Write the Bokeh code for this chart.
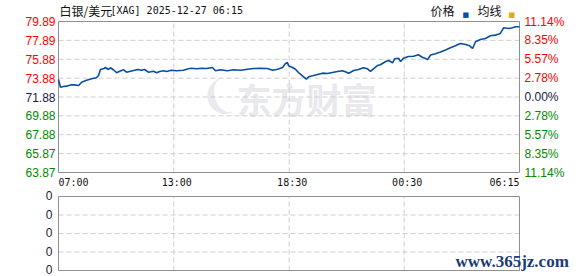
from bokeh.plotting import figure
from bokeh.models import Range1d, Label
from bokeh.embed import file_html
from bokeh.resources import INLINE

# ---------------- data ----------------
title_name = "白银/美元"
title_rest = "[XAG] 2025-12-27 06:15"
legend_names = ["价格", "均线"]

x_tick_pos = [0, 349, 698, 1046, 1395]
x_tick_labels = ["07:00", "13:00", "18:30", "00:30", "06:15"]

base_price = 71.88
price_ticks = [79.89, 77.89, 75.88, 73.88, 71.88, 69.88, 67.88, 65.87, 63.87]
price_tick_labels = ["79.89", "77.89", "75.88", "73.88", "71.88", "69.88", "67.88", "65.87", "63.87"]
pct_tick_labels = ["11.14%", "8.35%", "5.57%", "2.78%", "0.00%", "2.78%", "5.57%", "8.35%", "11.14%"]

vol_ticks = [0, 1, 2, 3, 4]
vol_tick_labels = ["0", "0", "0", "0", "0"]

t_idx = [0, 6, 15, 24, 39, 48, 61, 70, 85, 100, 115, 121, 127, 136, 142, 151, 157,
         166, 176, 185, 197, 206, 215, 230, 242, 251, 260, 272, 287, 297, 306, 318,
         327, 342, 357, 378, 393, 402, 418, 433, 448, 466, 475, 490, 511, 530, 551,
         572, 590, 611, 632, 648, 663, 678, 687, 693, 696, 708, 717, 726, 732, 741,
         750, 757, 769, 784, 799, 814, 829, 844, 859, 868, 878, 884, 893, 908, 923,
         935, 944, 953, 965, 974, 990, 999, 1011, 1017, 1029, 1035, 1044, 1059, 1074,
         1089, 1101, 1117, 1126, 1141, 1156, 1171, 1186, 1201, 1216, 1232, 1244, 1253,
         1262, 1277, 1292, 1307, 1322, 1337, 1347, 1362, 1374, 1383, 1395]
price = [73.74, 72.92, 72.99, 73.03, 73.17, 73.17, 73.10, 73.45, 73.66, 73.81, 73.92,
         74.16, 74.80, 74.87, 75.01, 74.80, 74.98, 74.77, 74.45, 74.62, 74.77, 74.51,
         74.59, 74.72, 74.80, 74.72, 74.80, 74.51, 74.62, 74.45, 74.59, 74.66, 74.59,
         74.72, 74.66, 74.72, 74.87, 74.93, 74.87, 74.93, 74.90, 75.01, 74.66, 74.77,
         74.66, 74.77, 74.72, 74.83, 74.90, 74.93, 74.90, 74.72, 74.83, 75.01, 75.43,
         75.54, 75.19, 75.01, 74.83, 74.48, 74.30, 74.05, 73.77, 74.02, 74.13, 74.27,
         74.41, 74.37, 74.48, 74.59, 74.66, 74.56, 74.41, 74.51, 74.69, 74.80, 74.98,
         74.87, 74.59, 74.87, 75.22, 75.30, 75.65, 75.75, 75.51, 75.93, 75.99, 75.65,
         75.99, 76.18, 76.21, 76.36, 76.10, 75.86, 76.33, 76.46, 76.65, 76.87, 77.10,
         77.31, 77.56, 77.45, 77.31, 77.03, 77.74, 77.98, 78.09, 78.37, 78.44, 78.62,
         79.22, 79.15, 79.22, 79.33, 79.33]

# ---------------- styles ----------------
PRICE_COLOR = "#0a4f9e"
AVG_COLOR = "#e0a81c"
UP_COLOR = "#ff0000"
DOWN_COLOR = "#008a00"
FLAT_COLOR = "#1a1a40"
GRID_COLOR = "#cfcfcf"
FRAME_COLOR = "#909090"
NUM_FONT = "Liberation Sans"
MONO_FONT = "DejaVu Sans Mono"
CJK_FONT = "Noto Sans CJK SC"

W, H = 578, 276
# pixel layout of the two chart boxes inside the canvas
BOX_L, BOX_R = 58, 519
PRICE_TOP, PRICE_BOT = 21, 172
VOL_TOP, VOL_BOT = 196, 270


def span_range(v_a, px_a, v_b, px_b, total):
    """Range whose ends hit the canvas edges given two value->pixel anchors."""
    k = (v_b - v_a) / (px_b - px_a)
    return Range1d(v_a - px_a * k, v_a + (total - px_a) * k)


def tick_color(v):
    if v > base_price + 1e-9:
        return UP_COLOR
    if v < base_price - 1e-9:
        return DOWN_COLOR
    return FLAT_COLOR


x_range = span_range(x_tick_pos[0], BOX_L, x_tick_pos[-1], BOX_R, W)
# y pixels counted from the bottom of the canvas
y_range = span_range(price_ticks[-1], H - PRICE_BOT, price_ticks[0], H - PRICE_TOP, H)
vol_range = span_range(vol_ticks[0], H - VOL_BOT, vol_ticks[-1], H - VOL_TOP, H)

p = figure(width=W, height=H, x_range=x_range, y_range=y_range,
           x_axis_type=None, y_axis_type=None,
           toolbar_location=None, output_backend="svg",
           min_border=0, min_border_left=0, min_border_right=0,
           min_border_top=0, min_border_bottom=0)
p.extra_y_ranges = {"vol": vol_range}
p.outline_line_color = None
p.background_fill_color = "white"
p.border_fill_color = "white"

x0, x1 = x_tick_pos[0], x_tick_pos[-1]
inner_x = x_tick_pos[1:-1]

# watermark (logo mark + name)
p.add_layout(Label(x=216, y=H - 97, x_units="screen", y_units="screen",
                   text="❨", text_font="DejaVu Sans", text_font_size="40px",
                   text_font_style="bold", text_color="#e9e9ee", angle=0.35,
                   text_align="center", text_baseline="middle", level="underlay"))
p.add_layout(Label(x=306, y=H - 98, x_units="screen", y_units="screen",
                   text="东方财富", text_font=CJK_FONT, text_font_size="35px",
                   text_font_style="bold", text_color="#e8e8ed",
                   text_align="center", text_baseline="middle", level="underlay"))

# ---- price panel grid + frame ----
ph = price_ticks[1:-1]
p.segment(x0=[x0] * len(ph), x1=[x1] * len(ph), y0=ph, y1=ph,
          line_color=GRID_COLOR, line_dash="5 3", line_width=1)
p.segment(x0=inner_x, x1=inner_x, y0=[price_ticks[-1]] * len(inner_x),
          y1=[price_ticks[0]] * len(inner_x),
          line_color=GRID_COLOR, line_dash="5 3", line_width=1)
p.quad(left=[x0], right=[x1], bottom=[price_ticks[-1]], top=[price_ticks[0]],
       fill_color=None, line_color=FRAME_COLOR, line_width=1)

# ---- volume panel grid + frame ----
vh = vol_ticks[1:-1]
p.segment(x0=[x0] * len(vh), x1=[x1] * len(vh), y0=vh, y1=vh, y_range_name="vol",
          line_color=GRID_COLOR, line_dash="5 3", line_width=1)
p.segment(x0=inner_x, x1=inner_x, y0=[vol_ticks[0]] * len(inner_x),
          y1=[vol_ticks[-1]] * len(inner_x), y_range_name="vol",
          line_color=GRID_COLOR, line_dash="5 3", line_width=1)
p.quad(left=[x0], right=[x1], bottom=[vol_ticks[0]], top=[vol_ticks[-1]],
       y_range_name="vol", fill_color=None, line_color=FRAME_COLOR, line_width=1)

# price line
p.line(t_idx, price, line_color=PRICE_COLOR, line_width=1.6)

# ---- tick labels ----
colors = [tick_color(v) for v in price_ticks]
p.text(x=[x0] * len(price_ticks), y=price_ticks, text=price_tick_labels,
       text_color=colors, x_offset=-3, text_align="right", text_baseline="middle",
       text_font={"value": NUM_FONT}, text_font_size="12px")
p.text(x=[x1] * len(price_ticks), y=price_ticks, text=pct_tick_labels,
       text_color=colors, x_offset=5, text_align="left", text_baseline="middle",
       text_font={"value": NUM_FONT}, text_font_size="12px")
p.text(x=[x0] * len(vol_ticks), y=vol_ticks, text=vol_tick_labels, y_range_name="vol",
       text_color=FLAT_COLOR, x_offset=-6, y_offset=-1, text_align="right",
       text_baseline="middle",
       text_font={"value": NUM_FONT}, text_font_size="12px")

aligns = ["left"] + ["center"] * (len(x_tick_pos) - 2) + ["right"]
for xv, lab, al in zip(x_tick_pos, x_tick_labels, aligns):
    p.add_layout(Label(x=xv, y=H - 182, y_units="screen",
                       x_offset=(3 if al == "center" else 0),
                       text=lab, text_font=MONO_FONT, text_font_size="10px",
                       text_color="#111111", text_align=al, text_baseline="middle"))

# title
p.add_layout(Label(x=59, y=H - 10, x_units="screen", y_units="screen", text=title_name,
                   text_font=CJK_FONT, text_font_size="12px", text_color="#111111",
                   text_align="left", text_baseline="middle"))
p.add_layout(Label(x=110, y=H - 10, x_units="screen", y_units="screen", text=title_rest,
                   text_font=MONO_FONT, text_font_size="10px", text_color="#111111",
                   text_align="left", text_baseline="middle"))

# legend
for name, col, tx, sx in zip(legend_names, [PRICE_COLOR, AVG_COLOR], [430, 477], [462, 508]):
    p.add_layout(Label(x=tx, y=H - 10, x_units="screen", y_units="screen", text=name,
                       text_font=CJK_FONT, text_font_size="12px", text_color="#111111",
                       text_align="left", text_baseline="middle"))
    p.add_layout(Label(x=sx, y=H - 14.5, x_units="screen", y_units="screen", text="■",
                       text_font="DejaVu Sans", text_font_size="7px", text_color=col,
                       text_align="left", text_baseline="middle"))

# site mark
p.add_layout(Label(x=455, y=H - 261, x_units="screen", y_units="screen", text="www.365jz.com",
                   text_font="Liberation Serif", text_font_size="17px",
                   text_font_style="bold", text_color="#1b3c78",
                   text_align="left", text_baseline="middle"))

open("out.html", "w").write(file_html(p, INLINE))
